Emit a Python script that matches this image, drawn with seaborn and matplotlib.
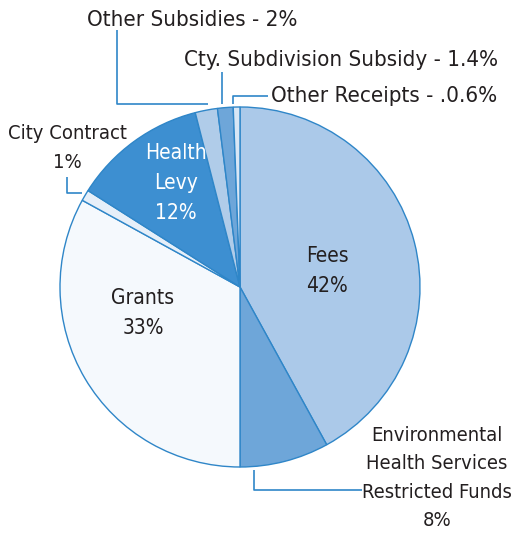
import matplotlib
matplotlib.use("Agg")
import matplotlib.pyplot as plt
import seaborn as sns

# revenue shares, clockwise from 12 o'clock
sources = ["Fees", "Environmental Health Services Restricted Funds", "Grants",
           "City Contract", "Health Levy", "Other Subsidies",
           "Cty. Subdivision Subsidy", "Other Receipts"]
shares = [42, 8, 33, 1, 12, 2, 1.4, 0.6]
colors = ["#abc9e9", "#6ea6d9", "#f5f9fd", "#e6eff9",
          "#3d8fd1", "#b0cce9", "#6ea6d9", "#d8e6f5"]

sns.set_theme(style="white")
plt.rcParams['font.family'] = ['DejaVu Sans']

H = 542
fig = plt.figure(figsize=(5.13, 5.42), dpi=100)
ax = fig.add_axes([0, 0, 1, 1])

line_c = "#2f86c8"
txt_c = "#231f20"

ax.pie(shares, colors=colors, startangle=90, counterclock=False,
       center=(240, H - 287), radius=180, frame=True,
       wedgeprops=dict(edgecolor=line_c, linewidth=1))
ax.set_xlim(0, 513)
ax.set_ylim(0, H)
ax.axis("off")

fs = 15


def T(x, y, s, **kw):
    ax.text(x, H - y, s, fontsize=kw.pop("fs", fs), color=kw.pop("c", txt_c),
            ha=kw.pop("ha", "center"), va="center", linespacing=1.62,
            fontstretch="condensed", **kw)


def L(xs, ys):
    ax.plot(xs, [H - y for y in ys], color=line_c, lw=1.2, solid_capstyle="butt")


T(327, 271, "Fees\n42%")
T(143, 313, "Grants\n33%")
T(176, 183, "Health\nLevy\n12%", c="white")
T(67, 148, "City Contract\n1%", fs=14.5)
T(437, 478, "Environmental\nHealth Services\nRestricted Funds\n8%", fs=14.5)
T(87, 20, "Other Subsidies - 2%", ha="left", fs=16)
T(184, 60, "Cty. Subdivision Subsidy - 1.4%", ha="left", fs=16)
T(271, 96, "Other Receipts - .0.6%", ha="left", fs=16)

L([67, 67, 82], [177, 193, 193])
L([117, 117, 208], [30, 104, 104])
L([222, 222], [72, 104])
L([233, 233, 268], [104, 96, 96])
L([254, 254, 362], [470, 490, 490])

fig.savefig("out.png", dpi=100)
